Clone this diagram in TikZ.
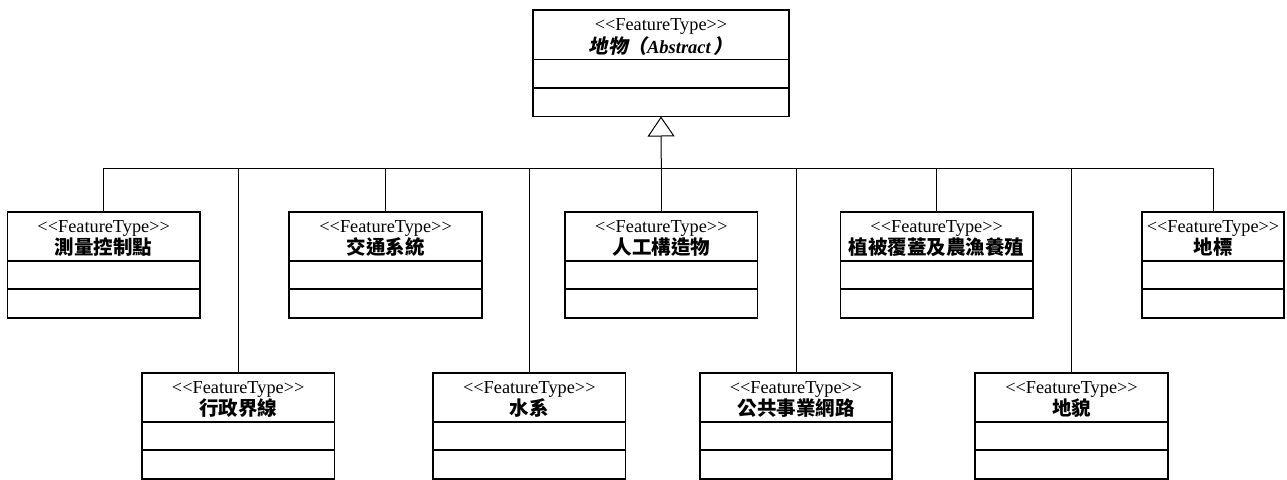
\documentclass[tikz,border=0pt]{standalone}
\usepackage{fontspec}
\setmainfont{Liberation Serif}
\newfontfamily\cjk{Noto Sans CJK TC}
\newfontfamily\cjkit[FakeSlant=0.2]{Noto Sans CJK TC}
\usetikzlibrary{positioning,arrows.meta}

\tikzset{
  head/.style={draw, line width=1.8pt, minimum width=192.5pt, minimum height=49pt,
    align=center, inner sep=0pt, outer sep=0pt, font=\fontsize{18.3}{22.5}\selectfont},
  comp/.style={draw, line width=1.8pt, minimum width=192.5pt, minimum height=28.5pt,
    inner sep=0pt, outer sep=0pt},
  link/.style={line width=1pt},
}
\newcommand{\stereo}{\rule{0pt}{16.5pt}<{}<FeatureType>{}>}
\newcommand{\cname}[1]{{\cjk\bfseries\fontsize{19.5}{22.5}\selectfont #1}}

\begin{document}
\begin{tikzpicture}[x=1pt,y=-1pt]
\useasboundingbox (0,0) rectangle (1287,479);

% abstract super class
\node[head, anchor=north, minimum width=256.6pt, minimum height=49.5pt] (Feature) at (661,10)
  {\stereo\\{\cjkit\bfseries\fontsize{19.5}{22.5}\selectfont 地物（{\rmfamily\bfseries\itshape\fontsize{18.5}{22.5}\selectfont Abstract\,}）}};
\node[comp, minimum width=256.6pt, below=0pt of Feature] (FeatureA) {};
\node[comp, minimum width=256.6pt, below=0pt of FeatureA] (FeatureO) {};

% upper row
\node[head, anchor=north] (Control) at (103.7,211.7) {\stereo\\\cname{測量控制點}};
\node[comp, below=0pt of Control] (ControlA) {};
\node[comp, below=0pt of ControlA] (ControlO) {};

\node[head, anchor=north] (Traffic) at (385.6,211.7) {\stereo\\\cname{交通系統}};
\node[comp, below=0pt of Traffic] (TrafficA) {};
\node[comp, below=0pt of TrafficA] (TrafficO) {};

\node[head, anchor=north] (Building) at (661.3,211.7) {\stereo\\\cname{人工構造物}};
\node[comp, below=0pt of Building] (BuildingA) {};
\node[comp, below=0pt of BuildingA] (BuildingO) {};

\node[head, anchor=north] (Vegetation) at (936.7,211.7) {\stereo\\\cname{植被覆蓋及農漁養殖}};
\node[comp, below=0pt of Vegetation] (VegetationA) {};
\node[comp, below=0pt of VegetationA] (VegetationO) {};

\node[head, anchor=north, minimum width=142.6pt] (Landmark) at (1213,211.7) {\stereo\\\cname{地標}};
\node[comp, minimum width=142.6pt, below=0pt of Landmark] (LandmarkA) {};
\node[comp, minimum width=142.6pt, below=0pt of LandmarkA] (LandmarkO) {};

% lower row
\node[head, anchor=north] (Boundary) at (238.2,372.7) {\stereo\\\cname{行政界線}};
\node[comp, below=0pt of Boundary] (BoundaryA) {};
\node[comp, below=0pt of BoundaryA] (BoundaryO) {};

\node[head, anchor=north] (Water) at (529.3,372.7) {\stereo\\\cname{水系}};
\node[comp, below=0pt of Water] (WaterA) {};
\node[comp, below=0pt of WaterA] (WaterO) {};

\node[head, anchor=north] (Utility) at (796,372.7) {\stereo\\\cname{公共事業網路}};
\node[comp, below=0pt of Utility] (UtilityA) {};
\node[comp, below=0pt of UtilityA] (UtilityO) {};

\node[head, anchor=north] (Terrain) at (1071.5,372.7) {\stereo\\\cname{地貌}};
\node[comp, below=0pt of Terrain] (TerrainA) {};
\node[comp, below=0pt of TerrainA] (TerrainO) {};

% generalization
\coordinate (bus) at (661.3,168.3);
\draw[link] (Control.north) |- (bus);
\draw[link] (Boundary.north) |- (bus);
\draw[link] (Traffic.north) |- (bus);
\draw[link] (Water.north) |- (bus);
\draw[link] (Building.north) -- (bus);
\draw[link] (Utility.north) |- (bus);
\draw[link] (Vegetation.north) |- (bus);
\draw[link] (Terrain.north) |- (bus);
\draw[link] (Landmark.north) |- (bus);
\draw[link, -{Triangle[open, length=20pt, width=27pt, line width=1pt]}] (bus) -- (FeatureO.south);

\end{tikzpicture}
\end{document}
